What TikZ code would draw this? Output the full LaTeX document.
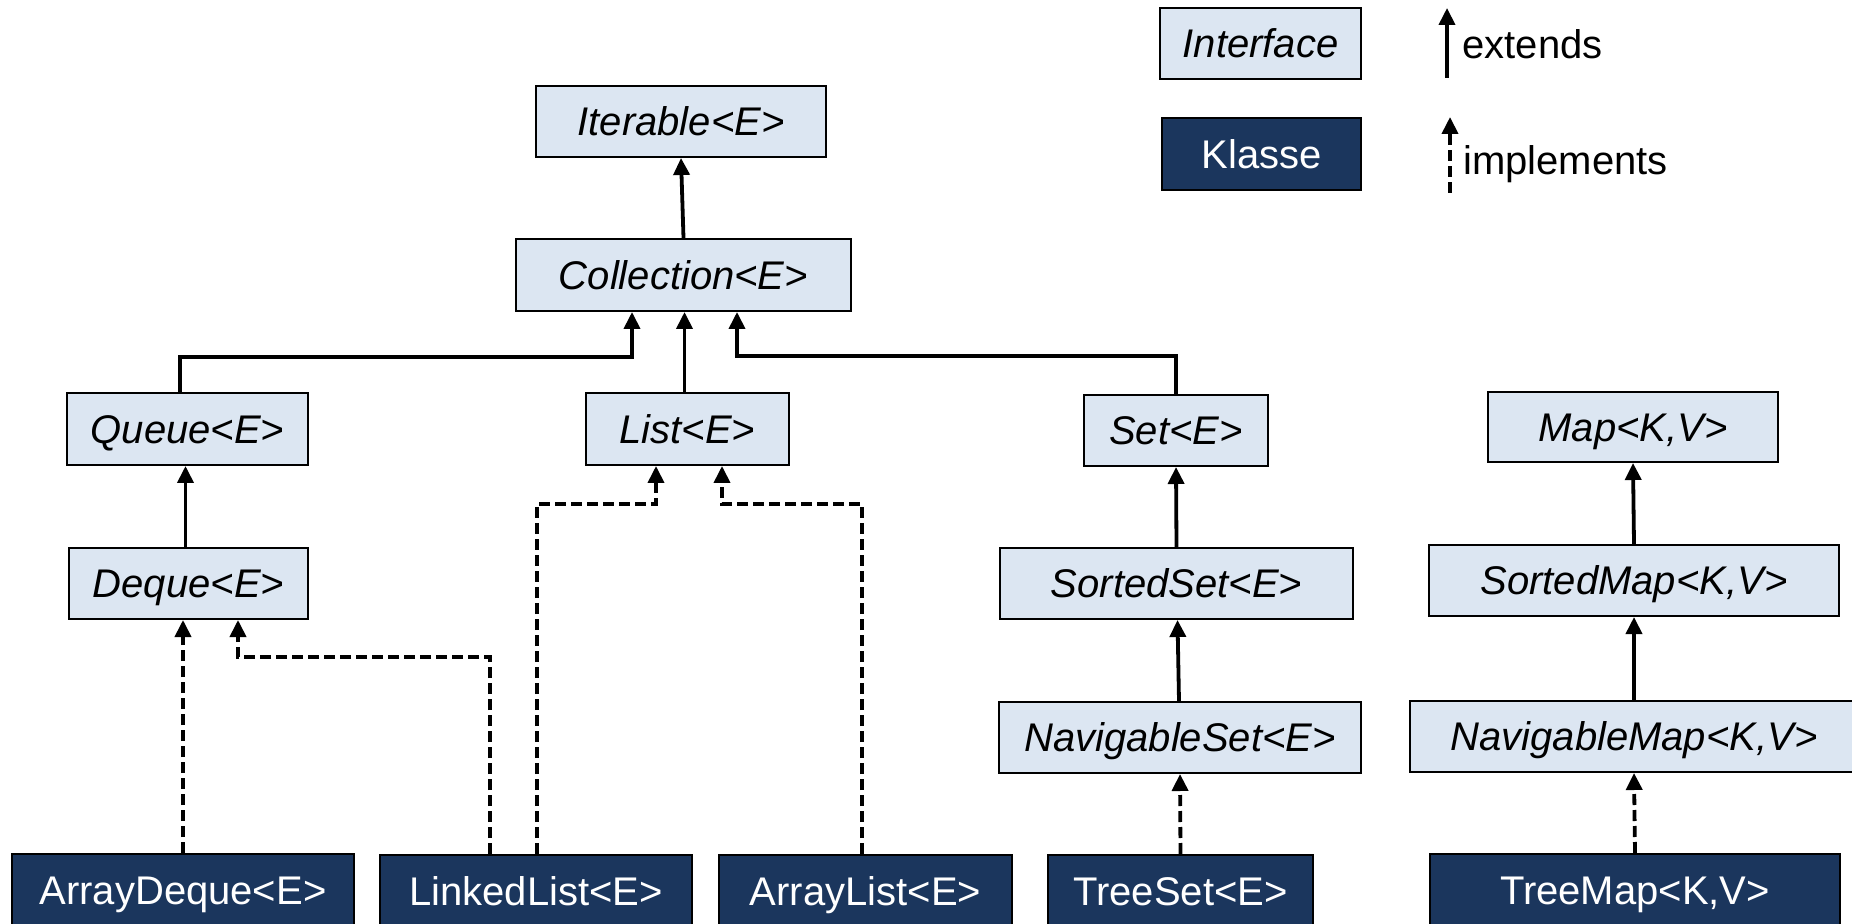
\documentclass[tikz,border=0pt]{standalone}
\usepackage{fontspec}
\setmainfont{Liberation Sans}
\usetikzlibrary{arrows.meta}
\definecolor{ifill}{RGB}{220,230,242}
\definecolor{kfill}{RGB}{27,54,93}
\tikzset{
  boxbase/.style={draw=black, line width=1pt, inner sep=0pt, text height=18.3pt, text depth=4pt,
    font=\fontsize{20}{24}\selectfont},
  iface/.style={boxbase, fill=ifill, text=black, font=\fontsize{20}{24}\selectfont\itshape},
  klasse/.style={boxbase, fill=kfill, text=white},
  ext/.style={line width=1.9pt, -{Triangle[length=8.5pt,width=8pt]}},
  impl/.style={line width=1.9pt, dash pattern=on 5.5pt off 2.5pt, -{Triangle[length=8.5pt,width=8pt]}},
  legtext/.style={anchor=base west, inner sep=0pt, font=\fontsize{20}{24}\selectfont}
}
\begin{document}
\begin{tikzpicture}[x=0.5pt,y=-0.5pt]
\useasboundingbox (0,0) rectangle (1852,924);
\clip (0,0) rectangle (1852,924);
\fill[white] (0,0) rectangle (1852,924);
% interfaces
\node[iface, minimum width=145pt, minimum height=35.5pt] (iter) at (681,121.5) {Iterable<E>};
\node[iface, minimum width=167.5pt, minimum height=36pt] (coll) at (683.5,275) {Collection<E>};
\node[iface, minimum width=120.5pt, minimum height=36pt] (queue) at (187.5,429) {Queue<E>};
\node[iface, minimum width=101.5pt, minimum height=36pt] (list) at (687.5,429) {List<E>};
\node[iface, minimum width=92pt, minimum height=35.5pt] (set) at (1176,430.5) {Set<E>};
\node[iface, minimum width=145pt, minimum height=35pt] (map) at (1633,427) {Map<K,V>};
\node[iface, minimum width=119.5pt, minimum height=35.5pt] (deque) at (188.5,583.5) {Deque<E>};
\node[iface, minimum width=176.5pt, minimum height=35.5pt] (sset) at (1176.5,583.5) {SortedSet<E>};
\node[iface, minimum width=205pt, minimum height=35.5pt] (smap) at (1634,580.5) {SortedMap<K,V>};
\node[iface, minimum width=181pt, minimum height=35.5pt] (nset) at (1180,737.5) {NavigableSet<E>};
\node[iface, minimum width=224pt, minimum height=35.5pt] (nmap) at (1634,736.5) {NavigableMap<K,V>};
% classes
\node[klasse, minimum width=171pt, minimum height=36pt] (adeque) at (183,890) {ArrayDeque<E>};
\node[klasse, minimum width=156pt, minimum height=36pt] (llist) at (536,891) {LinkedList<E>};
\node[klasse, minimum width=146.5pt, minimum height=36pt] (alist) at (865.5,891) {ArrayList<E>};
\node[klasse, minimum width=132.5pt, minimum height=36pt] (tset) at (1180.5,891) {TreeSet<E>};
\node[klasse, minimum width=205pt, minimum height=36pt] (tmap) at (1635,890) {TreeMap<K,V>};
% legend
\node[iface, minimum width=100.5pt, minimum height=35.5pt] (leginter) at (1260.5,43.5) {Interface};
\node[klasse, minimum width=99.5pt, minimum height=36pt] (legklasse) at (1261.5,154) {Klasse};
\coordinate (ea) at (1447,78);
\coordinate (eb) at (1447,8);
\draw[ext] (ea) -- (eb);
\node[legtext] (extlab) at (1462,59) {extends};
\coordinate (ia) at (1450,193);
\coordinate (ib) at (1450,117);
\draw[impl] (ia) -- (ib);
\node[legtext] (impllab) at (1463,175) {implements};
% extends connectors
\draw[ext] (coll.north) -- (iter.south);
\draw[ext] ([xshift=-3.75pt]queue.north) -- ++(0,-35) -| ([xshift=-25.75pt]coll.south);
\draw[ext] ([xshift=-1.5pt]list.north) -- ([xshift=0.5pt]coll.south);
\draw[ext] (set.north) -- ++(0,-38) -| ([xshift=26.75pt]coll.south);
\draw[ext] ([xshift=-1.5pt]deque.north) -- ([xshift=-1pt]queue.south);
\draw[ext] (sset.north) -- (set.south);
\draw[ext] ([xshift=-0.5pt]nset.north) -- ([xshift=0.5pt]sset.south);
\draw[ext] (smap.north) -- (map.south);
\draw[ext] (nmap.north) -- (smap.south);
% implements connectors
\draw[impl] (adeque.north) -- (adeque.north |- deque.south);
\draw[impl] ([xshift=-23pt]llist.north) -- ++(0,-197) -| ([xshift=24.75pt]deque.south);
\draw[impl] ([xshift=0.5pt]llist.north) -- ++(0,-350) -| ([xshift=-15.75pt]list.south);
\draw[impl] ([xshift=-1.75pt]alist.north) -- ++(0,-350) -| ([xshift=17.25pt]list.south);
\draw[impl] (tset.north) -- (nset.south);
\draw[impl] (tmap.north) -- (nmap.south);
\end{tikzpicture}
\end{document}
